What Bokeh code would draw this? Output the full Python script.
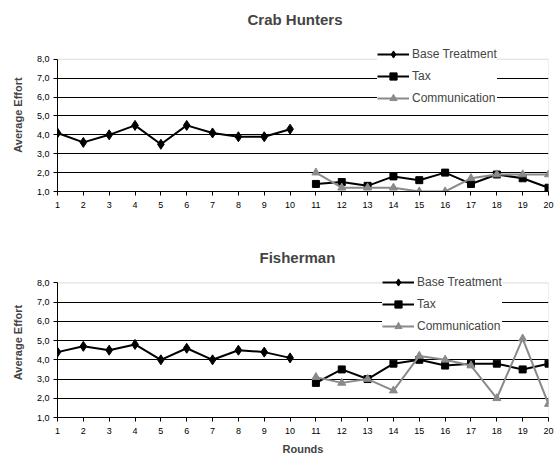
from bokeh.plotting import figure
from bokeh.layouts import column
from bokeh.models import Range1d, FixedTicker, Legend, LegendItem, BoxAnnotation
from bokeh.embed import file_html
from bokeh.resources import INLINE

# Rounds 1-10: base treatment; rounds 11-20: tax and communication treatments
rounds_base = list(range(1, 11))
rounds_treat = list(range(11, 21))

crab_base = [4.1, 3.6, 4.0, 4.5, 3.5, 4.5, 4.1, 3.9, 3.9, 4.3]
crab_tax = [1.4, 1.5, 1.3, 1.8, 1.6, 2.0, 1.4, 1.9, 1.7, 1.2]
crab_comm = [2.0, 1.2, 1.2, 1.2, 1.0, 1.0, 1.7, 1.9, 1.9, 1.9]

fish_base = [4.4, 4.7, 4.5, 4.8, 4.0, 4.6, 4.0, 4.5, 4.4, 4.1]
fish_tax = [2.8, 3.5, 3.0, 3.8, 4.0, 3.7, 3.8, 3.8, 3.5, 3.8]
fish_comm = [3.1, 2.8, 3.0, 2.4, 4.2, 4.0, 3.7, 2.0, 5.1, 1.7]

y_ticks = [1, 2, 3, 4, 5, 6, 7, 8]
y_tick_labels = {t: f"{t},0" for t in y_ticks}
x_ticks = list(range(1, 21))

FONT = "Liberation Sans"
GREY = "#8a8a8a"


def effort_panel(title, base, tax, comm, height, top, bottom, y_top,
                 xlabel=None, title_standoff=0, title_valign="bottom",
                 title_offset=190, legend_xy=(313, 80)):
    # the frame reaches a little above 8,0 so the legend has room to sit
    # over the top border, as in the spreadsheet original
    p = figure(width=559, height=height, output_backend="svg",
               toolbar_location=None,
               x_range=Range1d(x_ticks[0], x_ticks[-1]),
               y_range=Range1d(y_ticks[0], y_top), min_border_left=57,
               min_border_right=11, min_border_top=top,
               min_border_bottom=bottom)
    p.title.text = title
    p.title.align = "left"
    p.title.offset = title_offset
    p.title.vertical_align = title_valign
    p.title.text_font = FONT
    p.title.text_font_style = "bold"
    p.title.text_font_size = "15px"
    p.title.standoff = title_standoff

    p.outline_line_color = None
    p.background_fill_color = "white"
    p.border_fill_color = "white"

    # plot-area border (grey top and right edges)
    p.add_layout(BoxAnnotation(left=x_ticks[0], right=x_ticks[-1],
                               bottom=y_ticks[0], top=y_ticks[-1],
                               fill_alpha=0, line_color=GREY, line_width=1,
                               level="underlay"))

    p.xgrid.visible = False
    p.ygrid.ticker = FixedTicker(ticks=y_ticks[1:-1])
    p.ygrid.grid_line_color = "black"
    p.ygrid.grid_line_width = 1

    p.yaxis.ticker = FixedTicker(ticks=y_ticks)
    p.yaxis.bounds = (y_ticks[0], y_ticks[-1])
    p.yaxis.major_label_overrides = y_tick_labels
    p.xaxis.ticker = FixedTicker(ticks=x_ticks)
    for ax in (p.xaxis, p.yaxis):
        ax.axis_line_color = "black"
        ax.axis_line_width = 1
        ax.major_tick_line_color = "black"
        ax.major_tick_out = 4
        ax.major_tick_in = 0
        ax.minor_tick_line_color = None
        ax.major_label_text_font = FONT
        ax.major_label_text_font_size = "9px"
        ax.major_label_text_color = "black"
    p.xaxis.major_label_standoff = 6
    p.yaxis.major_label_standoff = 4

    p.yaxis.axis_label = "Average Effort"
    p.yaxis.axis_label_text_font = FONT
    p.yaxis.axis_label_text_font_style = "bold"
    p.yaxis.axis_label_text_font_size = "11px"
    p.yaxis.axis_label_standoff = 10
    if xlabel:
        p.xaxis.axis_label = xlabel
        p.xaxis.axis_label_text_font = FONT
        p.xaxis.axis_label_text_font_style = "bold"
        p.xaxis.axis_label_text_font_size = "11px"
        p.xaxis.axis_label_standoff = 6

    lb = p.line(rounds_base, base, line_color="black", line_width=2)
    mb = p.scatter(rounds_base, base, marker="diamond", size=10,
                   fill_color="black", line_color="black")
    lt = p.line(rounds_treat, tax, line_color="black", line_width=2)
    mt = p.scatter(rounds_treat, tax, marker="square", size=7,
                   fill_color="black", line_color="black")
    lc = p.line(rounds_treat, comm, line_color=GREY, line_width=2)
    mc = p.scatter(rounds_treat, comm, marker="triangle", size=8,
                   fill_color=GREY, line_color=GREY)

    legend = Legend(items=[
        LegendItem(label="Base Treatment", renderers=[lb, mb]),
        LegendItem(label="Tax", renderers=[lt, mt]),
        LegendItem(label="Communication", renderers=[lc, mc]),
    ], location=legend_xy)
    legend.background_fill_color = "white"
    legend.background_fill_alpha = 1.0
    legend.border_line_color = None
    legend.label_text_font = FONT
    legend.label_text_font_size = "12px"
    legend.label_standoff = 3
    legend.glyph_width = 32
    legend.glyph_height = 18
    legend.spacing = 4
    legend.padding = 6
    legend.margin = 0
    p.add_layout(legend, "center")
    return p


top = effort_panel("Crab Hunters", crab_base, crab_tax, crab_comm,
                   height=230, top=38, bottom=39, y_top=9.1,
                   title_standoff=18, title_valign="top", title_offset=190,
                   legend_xy=(320, 84))
bottom = effort_panel("Fisherman", fish_base, fish_tax, fish_comm,
                      height=233, top=37, bottom=46, y_top=8.8,
                      xlabel="Rounds", title_standoff=3, title_offset=202,
                      legend_xy=(325, 82))

layout = column(top, bottom, spacing=0)
open("out.html", "w").write(file_html(layout, INLINE))
